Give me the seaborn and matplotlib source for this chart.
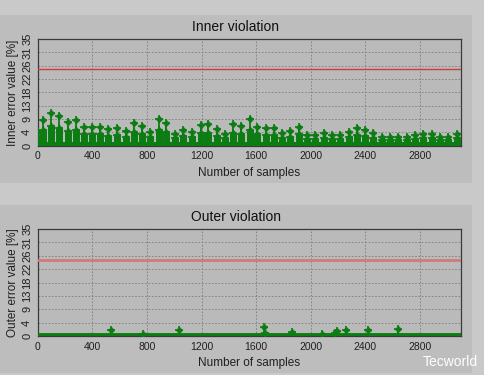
import matplotlib
matplotlib.use("Agg")
import matplotlib.pyplot as plt
from matplotlib.patches import Rectangle
import seaborn as sns
import numpy as np
import pandas as pd

# ---------------- data ----------------
y_ticks = [0, 4.375, 8.75, 13.125, 17.5, 21.875, 26.25, 30.625, 35]
y_tick_labels = ["0", "4", "9", "13", "18", "22", "26", "31", "35"]
x_ticks = [0, 400, 800, 1200, 1600, 2000, 2400, 2800]
x_max = 3100
limit_value = 25

inner_x = [5, 37, 97, 158, 219, 280, 341, 400, 456, 517, 583, 646, 707, 765, 826,
           887, 943, 1009, 1065, 1131, 1195, 1248, 1314, 1375, 1431, 1492, 1553,
           1609, 1674, 1731, 1792, 1850, 1911, 1972, 2033, 2094, 2155, 2216, 2277,
           2340, 2399, 2459, 2520, 2581, 2642, 2703, 2764, 2825, 2886, 2947, 3008, 3069]
inner_peak = [4.6, 8.4, 10.8, 9.7, 7.9, 8.4, 6.2, 6.2, 6.2, 5.5, 5.7, 4.9, 7.5, 6.5, 4.6,
              8.6, 7.5, 4.0, 5.1, 4.6, 6.8, 7.0, 5.4, 4.0, 7.0, 6.6, 8.6,
              6.2, 5.7, 5.7, 4.3, 4.9, 6.2, 3.5, 3.5, 4.3, 3.5, 3.5, 4.6,
              5.9, 5.1, 4.3, 3.0, 3.0, 3.0, 3.0, 3.5, 4.0, 4.0, 3.0, 3.0, 4.0]
inner_mid = [2.8, 5.0, 6.5, 5.8, 4.7, 5.0, 3.7, 3.7, 3.7, 3.3, 3.4, 2.9, 4.5, 3.9, 2.8,
             5.2, 4.5, 2.4, 3.1, 2.8, 4.1, 4.2, 3.2, 2.4, 4.2, 4.0, 5.2,
             3.7, 3.4, 3.4, 2.6, 2.9, 3.7, 2.1, 2.1, 2.6, 2.1, 2.1, 2.8,
             3.5, 3.1, 2.6, 1.8, 1.8, 1.8, 1.8, 2.1, 2.4, 2.4, 1.8, 1.8, 2.4]
inner_base = 1.3

outer_x = [536, 768, 1036, 1657, 1662, 1862, 2079, 2174, 2194, 2260, 2418, 2637]
outer_peak = [1.9, 0.5, 2.1, 3.0, 1.0, 1.3, 0.5, 1.0, 1.6, 1.9, 1.9, 2.2]
outer_base = 0.3

# ---------------- style ----------------
sns.set_theme(style="white")
plt.rcParams["font.family"] = ["Liberation Sans", "DejaVu Sans"]

GREEN = "#0b7d12"
FIG_BG = "#c9c9c9"
PANEL_BG = "#bdbdbd"
AX_BG = "#bababa"

fig = plt.figure(figsize=(4.84, 3.75), dpi=100, facecolor=FIG_BG)

W, H = 484.0, 375.0
panels = [(15, 183), (205, 373)]
for top, bot in panels:
    fig.patches.append(Rectangle((0, 1 - bot / H), 472 / W, (bot - top) / H,
                                 transform=fig.transFigure, facecolor=PANEL_BG,
                                 edgecolor="none", zorder=-5))

ax_specs = [
    dict(rect=[37.7 / W, 1 - 145.7 / H, (461 - 37.7) / W, 106.7 / H],
         title="Inner violation", ylabel="Inner error value [%]",
         title_y=27, xlabel_y=173),
    dict(rect=[37.7 / W, 1 - 336 / H, (461 - 37.7) / W, 107 / H],
         title="Outer violation", ylabel="Outer error value [%]",
         title_y=217, xlabel_y=363),
]

axes = []
for spec in ax_specs:
    ax = fig.add_axes(spec["rect"])
    ax.set_zorder(2)
    ax.set_facecolor(AX_BG)
    axes.append(ax)

def style_axis(ax, spec):
    ax.set_xlim(0, x_max)
    ax.set_ylim(0, 35)
    ax.set_xticks(x_ticks)
    ax.set_xticklabels([str(t) for t in x_ticks], fontsize=7.5, color="#202020")
    ax.set_yticks(y_ticks)
    ax.set_yticklabels(y_tick_labels, fontsize=8, rotation=90, va="center",
                       color="#202020")
    ax.tick_params(axis="both", length=2, width=0.6, pad=2, direction="out",
                   colors="#303030", labelcolor="#202020")
    ax.grid(True, color="#7d7d7d", linestyle=(0, (2, 2)), linewidth=0.6)
    ax.set_axisbelow(True)
    for s in ax.spines.values():
        s.set_visible(True)
        s.set_color("#3a3a3a")
        s.set_linewidth(0.9)
    ax.set_ylabel(spec["ylabel"], fontsize=8.5, color="#202020", labelpad=2)
    ax.set_xlabel("")
    fig.text(0.5 * 472 / W, 1 - spec["title_y"] / H, spec["title"],
             ha="center", va="center", fontsize=10, color="#111111")
    fig.text((37.7 + 461) / 2 / W, 1 - spec["xlabel_y"] / H, "Number of samples",
             ha="center", va="center", fontsize=8.5, color="#202020")

# ---------------- inner ----------------
ax = axes[0]
ax.axhline(limit_value, color="#d63a3a", linewidth=1.0, zorder=3)
ax.fill_between([0, x_max], 0, inner_base, color=GREEN, linewidth=0, zorder=2)
ax.vlines(inner_x, 0, inner_mid, color=GREEN, linewidth=5, zorder=3)
ax.vlines(inner_x, 0, inner_peak, color=GREEN, linewidth=1.3, zorder=3)
df_in = pd.DataFrame({"x": inner_x + inner_x, "y": inner_peak + inner_mid})
sns.scatterplot(data=df_in, x="x", y="y", ax=ax, marker="D", s=12,
                color=GREEN, edgecolor=GREEN, linewidth=0.3, zorder=4, legend=False)
sns.scatterplot(data=df_in, x="x", y="y", ax=ax, marker="+", s=26,
                color=GREEN, linewidth=1.2, zorder=4, legend=False)
style_axis(ax, ax_specs[0])

# ---------------- outer ----------------
ax = axes[1]
ax.axhline(limit_value, color="#d27a7a", linewidth=2.0, zorder=3)
ax.axhline(outer_base, color=GREEN, linewidth=3.5, zorder=3)
ax.vlines(outer_x, 0, outer_peak, color=GREEN, linewidth=1.3, zorder=3)
df_out = pd.DataFrame({"x": outer_x, "y": outer_peak})
sns.scatterplot(data=df_out, x="x", y="y", ax=ax, marker="D", s=12,
                color=GREEN, edgecolor=GREEN, linewidth=0.3, zorder=4, legend=False)
sns.scatterplot(data=df_out, x="x", y="y", ax=ax, marker="+", s=26,
                color=GREEN, linewidth=1.2, zorder=4, legend=False)
style_axis(ax, ax_specs[1])

# watermark
fig.text(478 / W, 1 - 362 / H, "Tecworld", ha="right", va="center",
         fontsize=10, color="white")

fig.savefig("out.png", dpi=100, facecolor=FIG_BG)
